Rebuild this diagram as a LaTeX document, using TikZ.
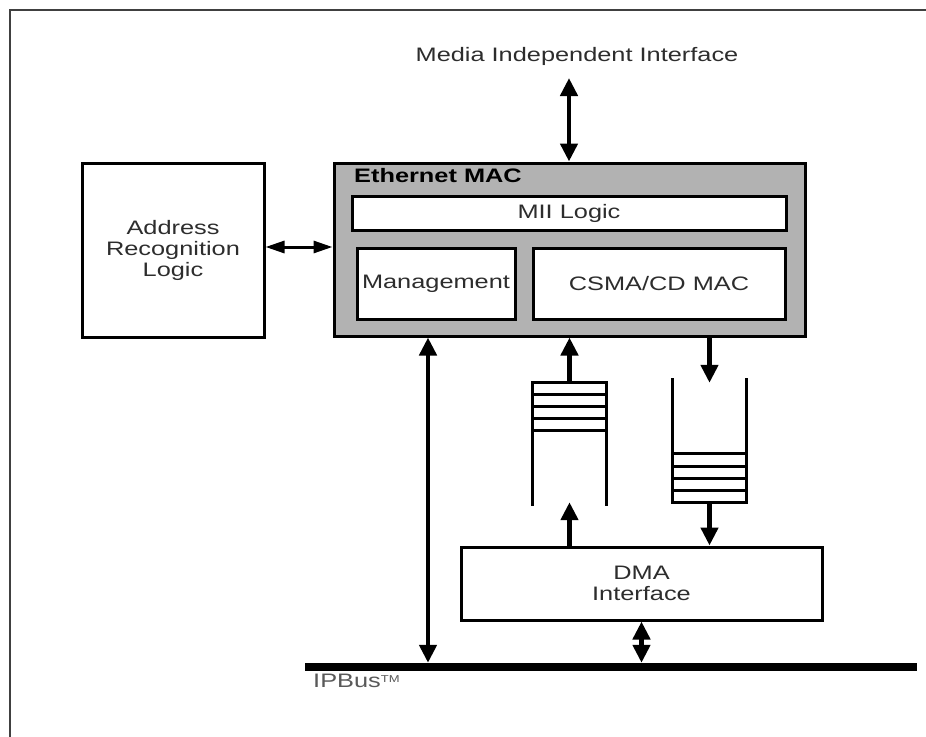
\documentclass[tikz,border=0pt]{standalone}
\usepackage{fontspec}
\setmainfont[FakeStretch=1.3]{Liberation Sans}
\usetikzlibrary{arrows.meta,calc}
\definecolor{macgray}{RGB}{178,178,178}
\definecolor{txt}{RGB}{45,45,45}
\begin{document}
\begin{tikzpicture}[x=1pt,y=-1pt,
  box/.style={draw=black, line width=3pt, fill=white, inner sep=0pt, align=center,
    font=\fontsize{19.5}{21}\selectfont, text=txt},
  lbl/.style={inner sep=0pt, font=\fontsize{19.5}{21}\selectfont, text=txt},
  fifoline/.style={line width=2.8pt, line cap=rect},
  big/.style={line width=4.5pt, -{Triangle[length=18pt,width=17pt]}},
  bigdbl/.style={line width=4.5pt, {Triangle[length=18pt,width=17pt]}-{Triangle[length=18pt,width=17pt]}},
  smalldbl/.style={line width=3pt, {Triangle[length=19pt,width=12pt]}-{Triangle[length=19pt,width=12pt]}}
]
\useasboundingbox (0,0) rectangle (926,736);
\fill[white] (0,0) rectangle (926,736);
% outer frame (only top and left edges visible)
\draw[line width=1.5pt, black!75] (10,740) -- (10,10) -- (930,10);

% boxes
\node[box, minimum width=182pt, minimum height=174pt] (addr) at (173,250)
  {Address\\Recognition\\Logic};
\node[box, fill=macgray, minimum width=471pt, minimum height=173pt] (mac) at (569.5,249.5) {};
\node[lbl, anchor=west, font=\fontsize{19.5}{21}\selectfont\bfseries, text=black] (macl) at (354,176) {Ethernet MAC};
\node[box, minimum width=434pt, minimum height=34pt] (mii) at (569,213) {MII Logic};
\node[box, minimum width=158pt, minimum height=71pt] (mgmt) at (436,283.5) {Management};
\node[box, minimum width=252pt, minimum height=71pt] (csma) at (659,283.5) {CSMA/CD MAC};
\node[box, minimum width=361pt, minimum height=73pt] (dma) at (641.5,583.5) {DMA\\Interface};

% bus
\node[fill=black, inner sep=0pt, minimum width=612pt, minimum height=8pt] (bus) at (611,667) {};
\node[lbl, anchor=west, text=black!65] (busl) at (313,681) {IPBus\raisebox{5pt}{\fontsize{10}{10}\selectfont TM}};

% top label
\node[lbl] (miil) at (577,56) {Media Independent Interface};
\coordinate (miiend) at (569,78);

% FIFOs
\node[minimum width=73pt, minimum height=121pt, inner sep=0pt] (fifo1) at (569.5,443.5) {};
\node[minimum width=73pt, minimum height=122pt, inner sep=0pt] (fifo2) at (709.5,441) {};

\draw[fifoline] (fifo1.north west) -- (fifo1.south west);
\draw[fifoline] (fifo1.north east) -- (fifo1.south east);
\draw[fifoline] (fifo1.north west) -- (fifo1.north east);
\foreach \d in {12,24,36,48}
  \draw[fifoline] ($(fifo1.north west)+(0,\d)$) -- ($(fifo1.north east)+(0,\d)$);

\draw[fifoline] (fifo2.north west) -- (fifo2.south west);
\draw[fifoline] (fifo2.north east) -- (fifo2.south east);
\draw[fifoline] (fifo2.south west) -- (fifo2.south east);
\foreach \d in {12,24,36,49}
  \draw[fifoline] ($(fifo2.south west)+(0,-\d)$) -- ($(fifo2.south east)+(0,-\d)$);

% connectors
\draw[bigdbl] (miiend) -- (miiend |- mac.north);
\draw[smalldbl] (addr.east |- 0,247) -- (mac.west |- 0,247);
\coordinate (lv) at (428,0);
\draw[bigdbl] (lv |- mac.south) -- (lv |- bus.north);
\draw[big] (fifo1.north) -- (fifo1.north |- mac.south);
\draw[big] (fifo1.south |- dma.north) -- ($(fifo1.south)+(0,-2)$);
\draw[big] (fifo2.north |- mac.south) -- ($(fifo2.north)+(0,3)$);
\draw[big] (fifo2.south) -- (fifo2.south |- dma.north);
\draw[bigdbl] (dma.south) -- (dma.south |- bus.north);
\end{tikzpicture}
\end{document}
